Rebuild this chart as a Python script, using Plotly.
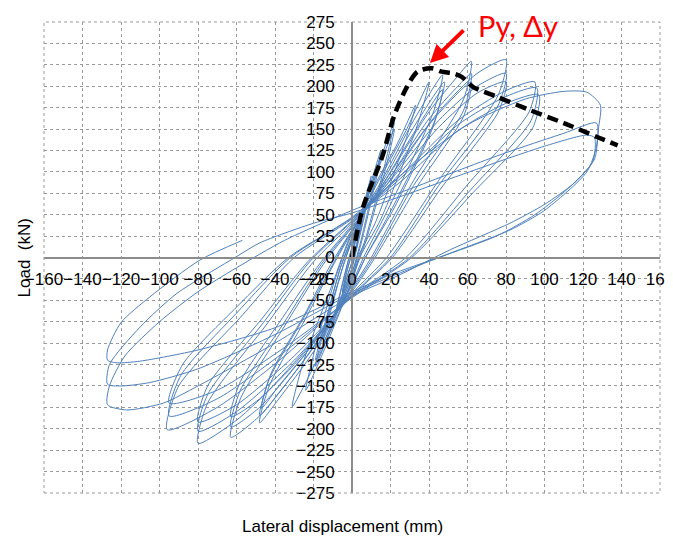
import plotly.graph_objects as go

# ---------------- data ----------------
x_ticks = list(range(-160, 161, 20))
y_ticks = list(range(-275, 276, 25))

# hysteresis path, cycle by cycle (displacement mm, load kN)
cyc_A = [(0, 0), (3, 30), (5, 45), (3, 20), (0, -5), (-3, -25), (-5, -40), (-3, -18), (0, 5),
         (3, 32), (5, 48), (3, 22), (0, -5), (-3, -26), (-5, -42), (-3, -20), (0, 6)]
cyc_B = [(5, 52), (10, 95), (7, 58), (2, 8), (0, -12), (-4, -38), (-8, -62), (-5, -32), (-1, 4),
         (5, 50), (10, 90), (7, 54), (2, 6), (0, -12), (-4, -36), (-8, -60), (-5, -30), (-1, 4)]
cyc_C = [(7, 66), (15, 125), (11, 82), (4, 14), (0, -18), (-7, -58), (-15, -100), (-11, -62), (-4, -5), (0, 20),
         (7, 64), (15, 118), (11, 76), (4, 10), (0, -18), (-7, -55), (-15, -95), (-11, -58), (-4, -6), (0, 20)]
cyc_D = [(10, 85), (22, 158), (17, 108), (7, 22), (0, -22), (-9, -72), (-19, -127), (-14, -80), (-6, -12), (0, 22),
         (10, 82), (22, 150), (17, 100), (7, 18), (0, -24), (-9, -70), (-19, -120), (-14, -76), (-6, -12), (0, 24)]
cyc_E = [(12, 85), (24, 135), (33, 178), (28, 138), (12, 40), (3, 0), (0, -26), (-12, -95), (-24, -155),
         (-19, -105), (-8, -20), (0, 28),
         (12, 82), (28, 148), (40, 205), (34, 155), (15, 45), (4, 0), (0, -28), (-15, -105), (-31, -174),
         (-25, -120), (-10, -30), (0, 30)]
cyc_F = [(15, 88), (32, 160), (47, 213), (42, 168), (20, 62), (6, 0), (0, -30), (-20, -110), (-38, -165),
         (-48, -193), (-43, -150), (-25, -75), (-10, -10), (0, 30),
         (15, 85), (32, 152), (48, 205), (43, 160), (21, 58), (7, 0), (0, -32), (-20, -105), (-38, -158),
         (-48, -185), (-43, -142), (-25, -70), (-10, -8), (0, 32),
         (15, 82), (32, 145), (47, 196), (42, 152), (21, 54), (7, 0), (0, -33), (-20, -100), (-38, -150),
         (-47, -176), (-42, -135), (-25, -68), (-11, -8), (0, 32)]
cyc_G = [(18, 92), (40, 170), (55, 212), (62, 229), (58, 185), (32, 90), (10, 0), (0, -36), (-25, -120),
         (-48, -185), (-63, -210), (-58, -165), (-35, -80), (-14, -5), (0, 35),
         (18, 88), (40, 162), (55, 200), (62, 215), (58, 172), (32, 84), (11, 0), (0, -38), (-25, -115),
         (-48, -175), (-63, -198), (-58, -155), (-35, -75), (-15, -5), (0, 36),
         (18, 85), (40, 155), (55, 192), (62, 205), (58, 165), (33, 80), (12, 0), (0, -40), (-25, -110),
         (-48, -165), (-63, -186), (-58, -145), (-36, -70), (-16, -5), (0, 38)]
cyc_H = [(20, 95), (45, 170), (65, 215), (80, 231), (76, 190), (45, 90), (18, 0), (0, -42), (-30, -125),
         (-60, -190), (-80, -217), (-75, -170), (-45, -80), (-20, -5), (0, 40),
         (20, 90), (45, 160), (65, 200), (80, 215), (76, 178), (45, 84), (20, 0), (0, -44), (-30, -120),
         (-60, -180), (-80, -203), (-75, -160), (-46, -76), (-22, -5), (0, 42),
         (20, 86), (45, 152), (65, 192), (80, 205), (76, 170), (46, 80), (21, 0), (0, -45), (-30, -115),
         (-60, -172), (-80, -192), (-75, -150), (-47, -72), (-23, -5), (0, 43)]
cyc_I = [(25, 95), (55, 160), (80, 195), (95, 205), (92, 170), (60, 85), (28, 0), (0, -45), (-35, -115),
         (-70, -175), (-96, -201), (-90, -150), (-58, -70), (-30, 0), (0, 45),
         (25, 92), (55, 155), (80, 188), (96, 198), (93, 160), (62, 80), (30, 0), (0, -46), (-35, -110),
         (-70, -165), (-95, -185), (-89, -138), (-60, -65), (-32, 0), (0, 46),
         (25, 88), (55, 148), (80, 180), (97, 190), (94, 152), (63, 76), (31, 0), (0, -47), (-35, -105),
         (-70, -155), (-95, -170), (-88, -125), (-60, -58), (-33, 0), (0, 47)]
cyc_J = [(30, 105), (60, 155), (90, 185), (110, 194), (122, 193), (129, 178), (128, 150), (126, 115),
         (116, 88), (100, 62), (82, 40), (51, 9), (25, -20), (0, -45), (-40, -100), (-80, -150),
         (-98, -170), (-117, -178), (-127, -172), (-126, -150), (-118, -115), (-100, -75), (-80, -40),
         (-60, -12), (-35, 20), (0, 55),
         (30, 80), (77, 120), (110, 145), (127, 157), (127, 130), (122, 100), (100, 55), (82, 32),
         (51, 5), (25, -18), (0, -42), (-40, -90), (-80, -130), (-105, -146), (-120, -150), (-127, -148),
         (-126, -125), (-110, -81), (-91, -42), (-60, 1), (-48, 17), (-20, 40), (0, 52),
         (30, 75), (61, 100), (100, 130), (122, 143), (126, 140), (125, 112), (112, 80), (95, 50),
         (75, 25), (45, 0), (20, -20), (0, -40), (-40, -82), (-80, -108), (-110, -121), (-122, -123),
         (-127, -120), (-127, -108), (-120, -76), (-105, -46), (-79, -3), (-57, 20)]

cycles = [cyc_A, cyc_B, cyc_C, cyc_D, cyc_E, cyc_F, cyc_G, cyc_H, cyc_I, cyc_J]
hyst_disp = [p[0] for c in cycles for p in c]
hyst_load = [p[1] for c in cycles for p in c]

# backbone (envelope) dashed curve
env_disp = [0, 5.8, 15.6, 22, 28.5, 34, 41.5, 46.6, 52.6, 57, 63, 75, 92.5, 110, 127, 138]
env_load = [0, 59, 117, 166, 199, 217, 221, 217, 215, 211, 199, 188, 172, 157, 141, 131]

# yield point annotation
yield_disp, yield_load = 40.5, 227
label_text = "Py, Δy"

# ---------------- figure ----------------
fig = go.Figure()
fig.add_trace(go.Scatter(x=hyst_disp, y=hyst_load, mode="lines",
                         line=dict(color="#4f81bd", width=1, shape="spline", smoothing=0.7),
                         hoverinfo="skip", showlegend=False))
fig.add_trace(go.Scatter(x=env_disp, y=env_load, mode="lines",
                         line=dict(color="black", width=4.5, dash="11px,6px", shape="spline",
                                   smoothing=0.8),
                         hoverinfo="skip", showlegend=False))

common = dict(showgrid=True, gridcolor="#9a9a9a", gridwidth=1, griddash="dot", zeroline=False,
              showline=True, linecolor="#8c8c8c", linewidth=2, anchor="free", position=0.5,
              automargin=False, tickangle=0, ticklabeloverflow="allow",
              tickfont=dict(family="Liberation Sans, Arial, sans-serif", size=17, color="black"),
              ticks="")
fig.update_xaxes(range=[-160, 160], tickvals=x_ticks, ticklabelstandoff=6, **common)
fig.update_yaxes(range=[-275, 275], tickvals=y_ticks, ticklabelstandoff=13, **common)

fig.add_shape(type="rect", xref="paper", yref="paper", x0=0, y0=0, x1=1, y1=1,
              line=dict(color="#9a9a9a", width=1, dash="dot"))

fig.add_annotation(x=yield_disp, y=yield_load, ax=58.7, ay=267, xref="x", yref="y",
                   axref="x", ayref="y", text="", showarrow=True, arrowhead=2,
                   arrowsize=0.9, arrowwidth=4, arrowcolor="#ff0000")
fig.add_annotation(x=0.7695, y=0.9936, xref="paper", yref="paper", text=label_text,
                   showarrow=False, xanchor="center", yanchor="middle", borderpad=0,
                   font=dict(family="Lato, Open Sans, sans-serif", size=29, color="#ff0000"))

fig.add_annotation(x=-0.031, y=0.5, xref="paper", yref="paper", text="Load  (kN)",
                   textangle=-90, showarrow=False, xanchor="center", yanchor="middle",
                   font=dict(family="Liberation Sans, Arial, sans-serif", size=17, color="black"))
fig.add_annotation(x=0.485, y=-0.072, xref="paper", yref="paper", text="Lateral displacement (mm)",
                   showarrow=False, xanchor="center", yanchor="middle",
                   font=dict(family="Liberation Sans, Arial, sans-serif", size=17, color="black"))

# page has an 8px body margin, so the figure is shrunk by 8px and margins adjusted
fig.update_layout(width=665, height=536, margin=dict(l=36, r=13, t=14, b=51),
                  plot_bgcolor="white", paper_bgcolor="white", showlegend=False)

fig.write_html("out.html")
